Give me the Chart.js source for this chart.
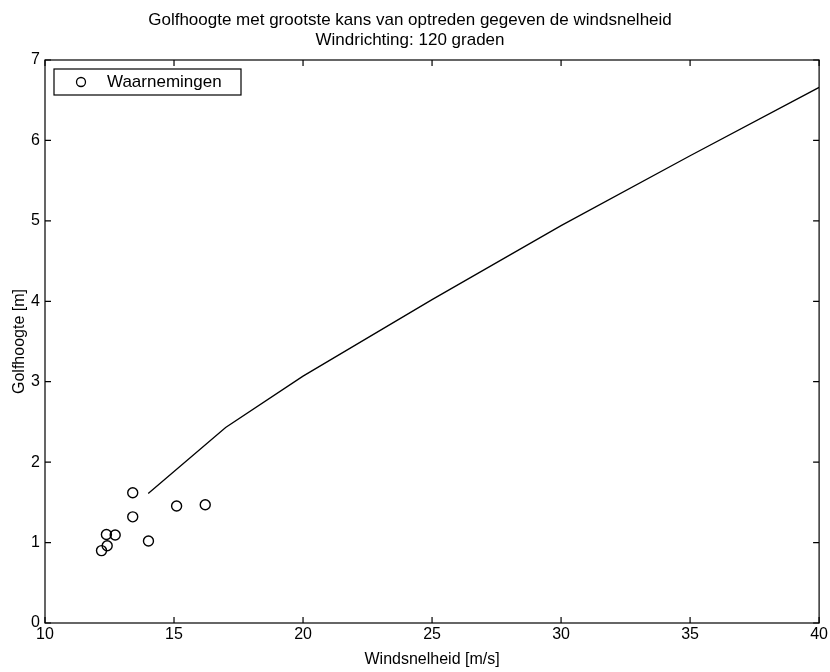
<!DOCTYPE html>
<html>
<head>
<meta charset="utf-8">
<script src="https://cdn.jsdelivr.net/npm/chart.js@4.4.0/dist/chart.umd.min.js"></script>
<style>
html, body { margin: 0; padding: 0; background: #fff; }
</style>
</head>
<body>
<canvas id="golfChart" width="830" height="672"></canvas>
<script>
// observations (wind speed m/s, wave height m)
const obsWind = [12.19, 12.41, 12.38, 12.72, 13.40, 13.40, 14.01, 15.10, 16.21];
const obsHeight = [0.90, 0.96, 1.10, 1.095, 1.62, 1.32, 1.02, 1.455, 1.47];
// most likely wave height curve
const modelWind = [14, 17, 20, 25, 30, 35, 40];
const modelHeight = [1.61, 2.43, 3.07, 4.02, 4.94, 5.81, 6.66];
const xTicks = [10, 15, 20, 25, 30, 35, 40];
const yTicks = [0, 1, 2, 3, 4, 5, 6, 7];

Chart.defaults.font.family = "'Liberation Sans', Arial, Helvetica, sans-serif";
Chart.defaults.color = '#000';

// matlab style box with inward ticks, plus legend inside the axes
const boxPlugin = {
    id: 'boxPlugin',
    afterDraw(chart) {
        const ctx = chart.ctx;
        const a = chart.chartArea;
        const xs = chart.scales.x;
        const ys = chart.scales.y;
        const len = 6;
        ctx.save();
        ctx.strokeStyle = '#000';
        ctx.lineWidth = 1.2;
        ctx.strokeRect(a.left, a.top, a.right - a.left, a.bottom - a.top);
        ctx.beginPath();
        xTicks.forEach(v => {
            const px = xs.getPixelForValue(v);
            ctx.moveTo(px, a.bottom); ctx.lineTo(px, a.bottom - len);
            ctx.moveTo(px, a.top); ctx.lineTo(px, a.top + len);
        });
        yTicks.forEach(v => {
            const py = ys.getPixelForValue(v);
            ctx.moveTo(a.left, py); ctx.lineTo(a.left + len, py);
            ctx.moveTo(a.right, py); ctx.lineTo(a.right - len, py);
        });
        ctx.stroke();

        // legend
        const lx = a.left + 9, ly = a.top + 9;
        ctx.fillStyle = '#fff';
        ctx.fillRect(lx, ly, 187, 26);
        ctx.strokeRect(lx, ly, 187, 26);
        ctx.beginPath();
        ctx.lineWidth = 1.3;
        ctx.arc(lx + 27, ly + 13, 4.5, 0, Math.PI * 2);
        ctx.stroke();
        ctx.fillStyle = '#000';
        ctx.font = "17px 'Liberation Sans', Arial, sans-serif";
        ctx.textBaseline = 'middle';
        ctx.fillText('Waarnemingen', lx + 53, ly + 13);
        ctx.restore();
    }
};

const ctx = document.getElementById('golfChart').getContext('2d');

new Chart(ctx, {
    type: 'scatter',
    data: {
        datasets: [
            {
                label: 'Golfhoogte',
                data: modelWind.map((w, i) => ({ x: w, y: modelHeight[i] })),
                showLine: true,
                borderColor: '#000',
                borderWidth: 1.3,
                pointRadius: 0,
                tension: 0
            },
            {
                label: 'Waarnemingen',
                data: obsWind.map((w, i) => ({ x: w, y: obsHeight[i] })),
                showLine: false,
                pointStyle: 'circle',
                pointRadius: 5,
                borderColor: '#000',
                borderWidth: 1.4,
                backgroundColor: 'rgba(0,0,0,0)'
            }
        ]
    },
    options: {
        responsive: false,
        animation: false,
        layout: { padding: { left: 0, right: 10, top: 0, bottom: 0 } },
        scales: {
            x: {
                type: 'linear',
                min: 10,
                max: 40,
                afterBuildTicks: s => { s.ticks = xTicks.map(v => ({ value: v })); },
                afterFit: s => { s.height = 49; },
                grid: { display: false, drawTicks: false },
                border: { display: false },
                ticks: { font: { size: 16 }, color: '#000', padding: 2, maxRotation: 0 },
                title: {
                    display: true,
                    text: 'Windsnelheid [m/s]',
                    font: { size: 16 },
                    color: '#000',
                    padding: { top: 0, bottom: 3 }
                }
            },
            y: {
                type: 'linear',
                min: 0,
                max: 7,
                afterBuildTicks: s => { s.ticks = yTicks.map(v => ({ value: v })); },
                afterFit: s => { s.width = 45; },
                grid: { display: false, drawTicks: false },
                border: { display: false },
                ticks: { font: { size: 16 }, color: '#000', padding: 5 },
                title: {
                    display: true,
                    text: 'Golfhoogte [m]',
                    font: { size: 16 },
                    color: '#000',
                    padding: { top: 10, bottom: 0 }
                }
            }
        },
        plugins: {
            legend: { display: false },
            tooltip: { enabled: false },
            title: {
                display: true,
                text: ['Golfhoogte met grootste kans van optreden gegeven de windsnelheid', 'Windrichting: 120 graden'],
                font: { size: 17, weight: 'normal', lineHeight: 20 / 17 },
                color: '#000',
                padding: { top: 10, bottom: 10 }
            }
        }
    },
    plugins: [boxPlugin]
});
</script>
</body>
</html>
